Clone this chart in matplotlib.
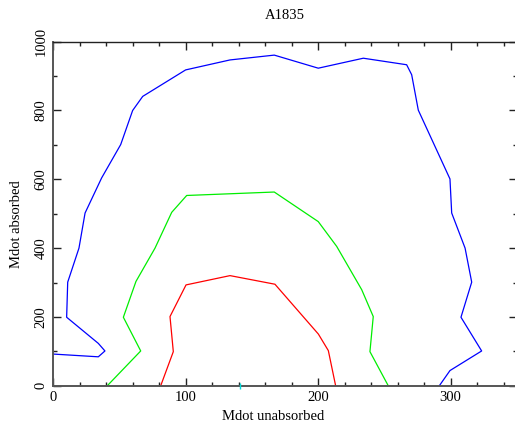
import matplotlib
matplotlib.use("Agg")
import matplotlib.pyplot as plt
from matplotlib.ticker import MultipleLocator

plt.rcParams['font.family'] = ['Liberation Serif', 'DejaVu Serif']
plt.rcParams['font.size'] = 10.5

# Confidence contours in the (unabsorbed, absorbed) mass deposition plane
blue_x = [0, 34.2, 39.2, 34.2, 10.3, 11.1, 19.6, 24.2, 36.7, 51.1, 60.1, 67.7,
          100.1, 133.6, 167.0, 200.2, 234.2, 266.9, 270.7, 275.7, 299.6, 300.9,
          311.0, 316.0, 307.9, 323.5, 299.6, 291.6]
blue_y = [92, 84, 101, 123, 199, 301, 400, 502, 604, 701, 800, 841,
          918, 947, 961, 923, 952, 933, 904, 801, 601, 502,
          400, 301, 199, 101, 44, 0]

green_x = [41.0, 66.2, 53.1, 62.6, 77.0, 89.6, 100.9, 167.0, 200.2, 214.1,
           233.0, 241.7, 239.2, 253.0]
green_y = [0, 101, 199, 303, 400, 504, 553, 563, 477, 405,
           279, 201, 99, 0]

red_x = [81.3, 90.8, 88.3, 100.4, 133.6, 167.5, 200.3, 207.8, 213.3]
red_y = [0, 99, 201, 293, 320, 295, 150, 102, 0]

best_x = [141]
best_y = [0]

W, H = 515, 426
fig = plt.figure(figsize=(W / 100, H / 100), dpi=100)
left, right, top, bottom = 53, 516.75, 41.7, 385.7
ax = fig.add_axes([left / W, 1 - bottom / H, (right - left) / W, (bottom - top) / H])

ax.plot(blue_x, blue_y, color='#0000ff', lw=0.9)
ax.plot(green_x, green_y, color='#00ee00', lw=0.9)
ax.plot(red_x, red_y, color='#ff0000', lw=0.9)
ax.plot(best_x, best_y, marker='|', color='#00dddd', ms=4, mew=1.0,
        linestyle='none', clip_on=False, zorder=5)

ax.set_xlim(0, 350)
ax.set_ylim(0, 1000)

ax.xaxis.set_major_locator(MultipleLocator(100))
ax.xaxis.set_minor_locator(MultipleLocator(20))
ax.yaxis.set_major_locator(MultipleLocator(200))
ax.yaxis.set_minor_locator(MultipleLocator(100))

ax.tick_params(which='both', direction='in', top=True, right=True, colors='#222222')
ax.tick_params(which='major', length=6, width=1.0, labelcolor='black', labelsize=10.5)
ax.tick_params(which='minor', length=3, width=1.0)
ax.tick_params(axis='x', which='major', pad=4)
ax.tick_params(axis='y', which='major', pad=4)
for lbl in ax.get_yticklabels():
    lbl.set_rotation(90)
    lbl.set_va('center')

for side in ('left', 'bottom'):
    ax.spines[side].set_color('#555555')
    ax.spines[side].set_linewidth(1.4)
for side in ('top', 'right'):
    ax.spines[side].set_color('#222222')
    ax.spines[side].set_linewidth(1.0)

ax.set_title('A1835', fontsize=10.5, pad=16)
ax.set_xlabel('Mdot unabsorbed', fontsize=10.5, labelpad=4)
ax.xaxis.label.set_x((273.5 - left) / (right - left))
ax.set_ylabel('Mdot absorbed', fontsize=10.5, labelpad=8)
ax.yaxis.label.set_y((bottom - 224) / (bottom - top))

fig.savefig('out.png', dpi=100)
